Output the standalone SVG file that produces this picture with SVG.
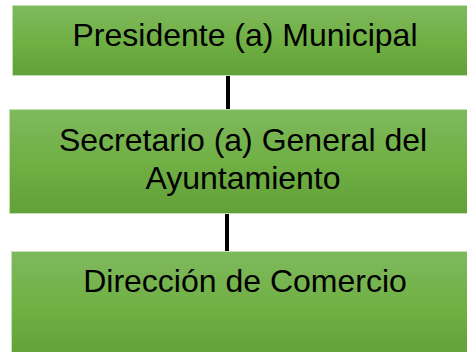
<svg xmlns="http://www.w3.org/2000/svg" width="467" height="352" viewBox="0 0 467 352">
<style>
.box{fill:url(#g);stroke:#c4dfb3;stroke-width:1}
.t{font-family:"Liberation Sans",Arial,sans-serif;font-size:32px;fill:#000;text-anchor:middle}
.c{stroke:#000;stroke-width:4;fill:none}
</style>
<defs>
<linearGradient id="g" x1="0" y1="0" x2="0" y2="1">
<stop offset="0" stop-color="#7fb95e"/>
<stop offset="0.5" stop-color="#70b044"/>
<stop offset="1" stop-color="#62a038"/>
</linearGradient>
</defs>
<rect width="467" height="352" fill="#fff"/>
<g id="connectors">
<line class="c" x1="228" y1="74" x2="228" y2="109"/>
<line class="c" x1="227" y1="214" x2="227" y2="251"/>
</g>
<g id="n1">
<rect class="box" x="12.5" y="5.5" width="460" height="70"/>
<text class="t" x="245" y="46">Presidente (a) Municipal</text>
</g>
<g id="n2">
<rect class="box" x="9.5" y="109.5" width="463" height="104"/>
<text class="t" x="243" y="151">Secretario (a) General del</text>
<text class="t" x="243" y="189">Ayuntamiento</text>
</g>
<g id="n3">
<rect class="box" x="11.5" y="251.5" width="462" height="110"/>
<text class="t" x="245" y="292">Dirección de Comercio</text>
</g>
</svg>
